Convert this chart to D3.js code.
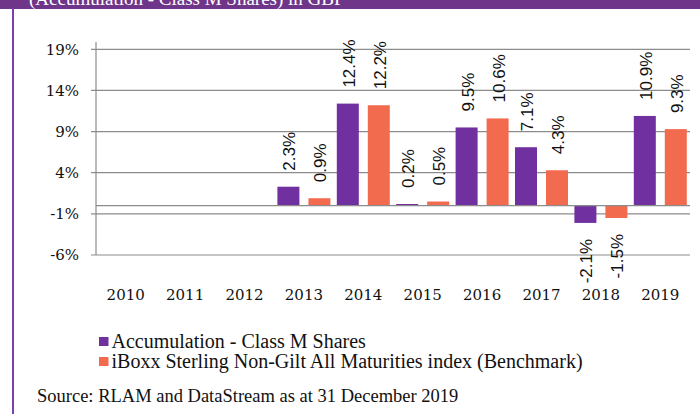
<!DOCTYPE html>
<html lang="en">
<head>
  <meta charset="UTF-8">
  <title>Discrete performance chart</title>
  <script src="https://cdn.jsdelivr.net/npm/d3@7"></script>
  <style>
    body { margin: 0; background: #fff; }
    svg { display: block; }
  </style>
</head>
<body>
  <svg id="chart" width="700" height="414"></svg>

  <script>
    // data
    const years = ["2010", "2011", "2012", "2013", "2014", "2015", "2016", "2017", "2018", "2019"];
    const accumulation = [null, null, null, 2.3, 12.4, 0.2, 9.5, 7.1, -2.1, 10.9];
    const benchmark = [null, null, null, 0.9, 12.2, 0.5, 10.6, 4.3, -1.5, 9.3];
    const seriesNames = ["Accumulation - Class M Shares", "iBoxx Sterling Non-Gilt All Maturities index (Benchmark)"];
    const seriesColors = ["#7030a0", "#f26b4f"];
    const yTicks = [-6, -1, 4, 9, 14, 19];

    const width = 700, height = 414;
    const left = 96, right = 690;

    const svg = d3.select("#chart");

    // header band (cut off at the top)
    svg.append("rect")
      .attr("x", 0).attr("y", 0)
      .attr("width", width).attr("height", 9)
      .attr("fill", "#6e3589");
    svg.append("text")
      .attr("x", 29).attr("y", 5)
      .attr("fill", "#fff")
      .attr("font-family", "Liberation Serif")
      .attr("font-size", 19)
      .text("(Accumulation - Class M Shares) in GBP");
    svg.append("line")
      .attr("x1", 13).attr("x2", 13)
      .attr("y1", 8).attr("y2", height)
      .attr("stroke", "#7b3fb3")
      .attr("stroke-width", 2);

    const y = d3.scaleLinear().domain([-6, 19]).range([255, 49.3]);
    const x0 = d3.scaleBand().domain(years).range([left, right]);
    const x1 = d3.scaleBand().domain([0, 1])
      .range([3.2, x0.bandwidth() - 3.2])
      .paddingInner(0.29);

    // gridlines
    svg.append("g")
      .selectAll("line")
      .data(yTicks)
      .enter().append("line")
      .attr("x1", left - 5).attr("x2", right)
      .attr("y1", d => y(d)).attr("y2", d => y(d))
      .attr("stroke", "#8c8c8c")
      .attr("stroke-width", 1.2);

    // y axis line
    svg.append("line")
      .attr("x1", left).attr("x2", left)
      .attr("y1", 42).attr("y2", y(-6))
      .attr("stroke", "#8c8c8c")
      .attr("stroke-width", 1.2);

    // y tick labels
    svg.append("g")
      .selectAll("text")
      .data(yTicks)
      .enter().append("text")
      .attr("x", 79)
      .attr("y", d => y(d))
      .attr("dy", "0.35em")
      .attr("text-anchor", "end")
      .attr("font-family", "DejaVu Serif")
      .attr("font-size", 15)
      .attr("fill", "#111")
      .text(d => d + "%");

    // bars
    const rows = years.map((yr, i) => ({ year: yr, values: [accumulation[i], benchmark[i]] }));
    const groups = svg.append("g")
      .selectAll("g")
      .data(rows)
      .enter().append("g")
      .attr("transform", d => `translate(${x0(d.year)},0)`);

    const cells = groups.selectAll("g")
      .data(d => d.values.map((v, k) => ({ v: v, k: k })).filter(c => c.v !== null))
      .enter().append("g");

    cells.append("rect")
      .attr("x", d => x1(d.k))
      .attr("width", x1.bandwidth())
      .attr("y", d => y(Math.max(0, d.v)))
      .attr("height", d => Math.abs(y(d.v) - y(0)))
      .attr("fill", d => seriesColors[d.k]);

    cells.append("text")
      .attr("transform", d => {
        const cx = x1(d.k) + x1.bandwidth() / 2 + 1;
        const cy = d.v >= 0 ? y(d.v) - 16 : y(d.v) + 16;
        return `translate(${cx},${cy}) rotate(-90)`;
      })
      .attr("text-anchor", d => d.v >= 0 ? "start" : "end")
      .attr("dy", "0.35em")
      .attr("font-family", "Liberation Sans")
      .attr("font-size", 17)
      .attr("fill", "#111")
      .text(d => d.v.toFixed(1) + "%");

    // zero line
    svg.append("line")
      .attr("x1", left).attr("x2", right)
      .attr("y1", y(0)).attr("y2", y(0))
      .attr("stroke", "#8c8c8c")
      .attr("stroke-width", 1.2);

    // year labels
    svg.append("g")
      .selectAll("text")
      .data(years)
      .enter().append("text")
      .attr("x", d => x0(d) + x0.bandwidth() / 2)
      .attr("y", 300)
      .attr("text-anchor", "middle")
      .attr("font-family", "DejaVu Serif")
      .attr("font-size", 15)
      .attr("fill", "#111")
      .text(d => d);

    // legend
    const legend = svg.append("g")
      .selectAll("g")
      .data(seriesNames)
      .enter().append("g")
      .attr("transform", (d, i) => `translate(99,${337 + i * 20})`);
    legend.append("rect")
      .attr("width", 9.5).attr("height", 9)
      .attr("fill", (d, i) => seriesColors[i]);
    legend.append("text")
      .attr("x", 12.5).attr("y", 11)
      .attr("font-family", "Liberation Serif")
      .attr("font-size", 20)
      .attr("fill", "#111")
      .text(d => d);

    svg.append("text")
      .attr("x", 37).attr("y", 402)
      .attr("font-family", "Liberation Serif")
      .attr("font-size", 18.5)
      .attr("fill", "#111")
      .text("Source: RLAM and DataStream as at 31 December 2019");
  </script>
</body>
</html>
